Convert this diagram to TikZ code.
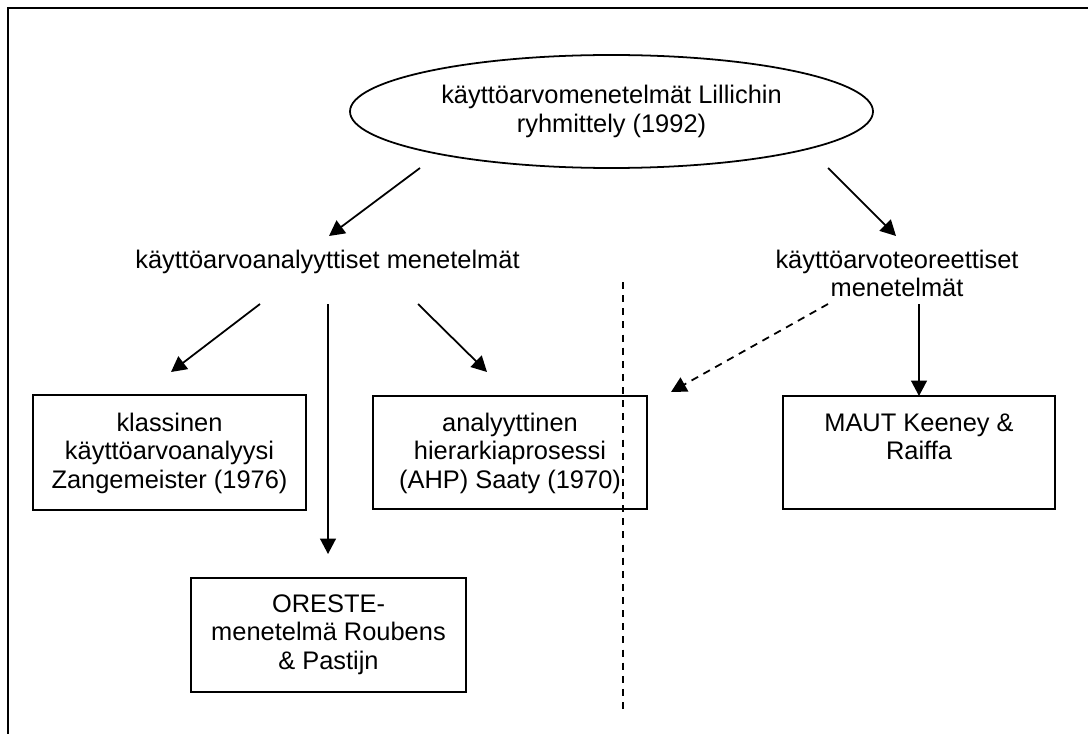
\documentclass[tikz,border=0pt]{standalone}
\usepackage{fontspec}
\setmainfont{Liberation Sans}
\usetikzlibrary{shapes.geometric,arrows.meta}
\newcommand\ptext[1]{\parbox[t]{140pt}{\centering #1}}
\begin{document}
\begin{tikzpicture}[x=0.48pt,y=-0.48pt,
  font=\fontsize{12.2}{13.9}\selectfont,
  ln/.style={line width=0.85pt},
  arr/.style={ln,-{Triangle[length=7.4pt,width=7.6pt]}},
  darr/.style={arr,dash pattern=on 3.6pt off 2.9pt},
  boxnode/.style={draw,ln,rectangle,inner sep=0pt,outer sep=0pt},
  txt/.style={inner sep=0pt,anchor=base}]
\useasboundingbox (0,0) rectangle (1088,733);
\begin{scope}
\clip (0,0) rectangle (1088,733);
\draw[line width=1.2pt] (8,8) rectangle (1300,900);
\end{scope}
% top ellipse
\node[draw,ln,ellipse,inner sep=0pt,minimum width=523*0.48pt,minimum height=113*0.48pt,align=center] (top) at (611.5,111.5)
  {käyttöarvomenetelmät Lillichin\\ryhmittely (1992)};
% second level texts
\node[txt] (ana) at (327.5,268) {käyttöarvoanalyyttiset menetelmät};
\node[txt] (teo) at (897,268) {\ptext{käyttöarvoteoreettiset\\menetelmät}};
% boxes
\node[boxnode,minimum width=273*0.48pt,minimum height=115*0.48pt] (klb) at (169.5,452.5) {};
\node[txt] (klt) at (169.5,431) {\ptext{klassinen\\käyttöarvoanalyysi\\Zangemeister (1976)}};
\node[boxnode,minimum width=274*0.48pt,minimum height=113*0.48pt] (ahb) at (510,452.5) {};
\node[txt] (aht) at (510,431) {\ptext{analyyttinen\\hierarkiaprosessi\\(AHP) Saaty (1970)}};
\node[boxnode,minimum width=272*0.48pt,minimum height=113*0.48pt] (mab) at (919,452.5) {};
\node[txt] (mat) at (919,431) {\ptext{MAUT Keeney \&\\Raiffa}};
\node[boxnode,minimum width=275*0.48pt,minimum height=114*0.48pt] (orb) at (328.5,635) {};
\node[txt] (ort) at (328.5,612) {\ptext{ORESTE-\\menetelmä Roubens\\\& Pastijn}};
% connector end points
\coordinate (a1s) at (420,168); \coordinate (a1e) at (329,236);
\coordinate (a2s) at (828,168); \coordinate (a2e) at (896,236);
\coordinate (b1s) at (260,304); \coordinate (b1e) at (171,372);
\coordinate (b2s) at (328,304); \coordinate (b2e) at (328,554);
\coordinate (b3s) at (418,304); \coordinate (b3e) at (487,372);
\coordinate (c1s) at (828,304); \coordinate (c1e) at (671,392);
\coordinate (c2s) at (919,304); \coordinate (c2e) at (919,396);
\coordinate (d1) at (623,282); \coordinate (d2) at (623,712);
% connectors
\draw[arr] (a1s) -- (a1e);
\draw[arr] (a2s) -- (a2e);
\draw[arr] (b1s) -- (b1e);
\draw[arr] (b2s) -- (b2e);
\draw[arr] (b3s) -- (b3e);
\draw[darr] (c1s) -- (c1e);
\draw[arr] (c2s) -- (c2e);
\draw[ln,dash pattern=on 3.4pt off 2.9pt] (d1) -- (d2);
\end{tikzpicture}
\end{document}
